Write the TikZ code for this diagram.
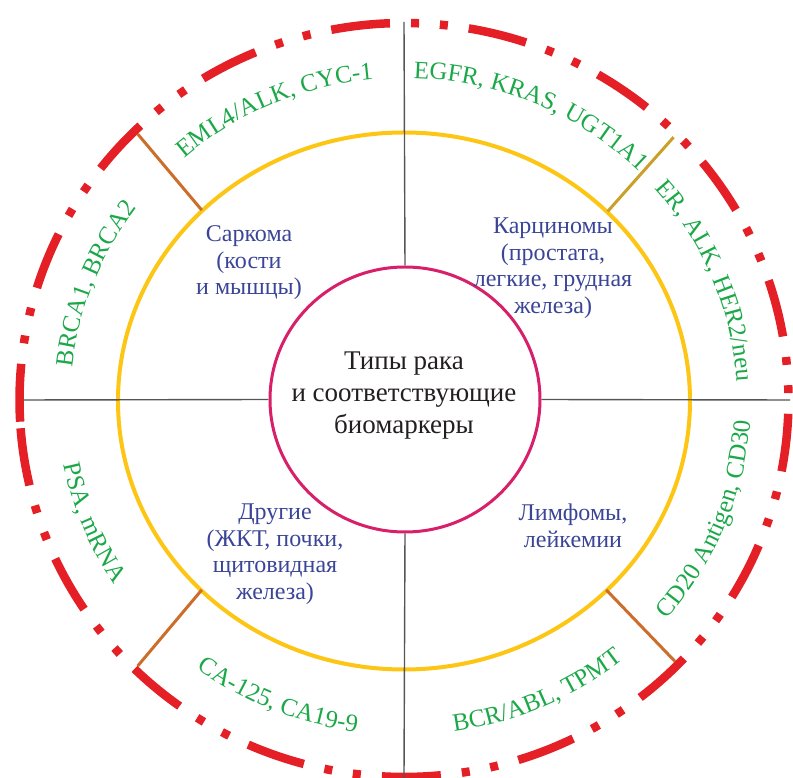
\documentclass[tikz,border=0pt]{standalone}
\usepackage{fontspec}
\setmainfont{Liberation Serif}
\usetikzlibrary{decorations.text,shapes.geometric}
\definecolor{redc}{HTML}{E41F26}
\definecolor{yellowc}{HTML}{FDC514}
\definecolor{magc}{HTML}{D8206A}
\definecolor{greenc}{HTML}{1BA848}
\definecolor{bluec}{HTML}{3A4597}
\definecolor{orangec}{HTML}{CC6D2C}
\definecolor{goldc}{HTML}{C9A12A}
\definecolor{axisc}{HTML}{555555}
\definecolor{textc}{HTML}{231F20}
\newcommand\gfnt{\fontsize{25}{25}\selectfont}
\begin{document}
\begin{tikzpicture}[x=1pt,y=1pt,
  reddash/.style={draw=redc,line width=8.5pt,line cap=butt},
  yellowring/.style={draw=yellowc,line width=4pt},
  coreshape/.style={ellipse,draw=magc,line width=3pt,minimum width=270pt,minimum height=265pt,inner sep=0pt},
  coretext/.style={align=center,text=textc,font=\fontsize{27}{32}\selectfont},
  bluetxt/.style={align=center,text=bluec,font=\fontsize{24}{26.5}\selectfont},
  axisline/.style={draw=axisc,line width=1.4pt},
  spoke/.style={line width=3pt},
  greenup/.style={decorate,decoration={text along path,text align=center,text color=greenc,text={|\gfnt|#1}}},
  greendown/.style={decorate,decoration={text along path,text align=center,text color=greenc,text={|\gfnt|#1}}}
]
\useasboundingbox (-404,-378) rectangle (389,400);
% outer red dash-dot ring
\foreach \c in {96.5,75.9,55.3,34.7,14.1,-6.5,-27.1,-47.7,-68.3,-88.9,117.1,137.7,158.3,178.9,250.5,229.9,209.3,188.7}{
  \draw[reddash] ({\c-4.4}:384.5 and 377) arc[start angle={\c-4.4},end angle={\c+4.4},x radius=384.5,y radius=377];
}
\foreach \m in {86.2,65.6,45,24.4,3.8,-16.8,-37.4,-58,-78.6,106.8,127.4,148,168.6,260.8,240.2,219.6,199}{
  \foreach \d in {-2.15,2.15}{
    \draw[reddash] ({\m+\d-0.6}:384.5 and 377) arc[start angle={\m+\d-0.6},end angle={\m+\d+0.6},x radius=384.5,y radius=377];
  }
}
% yellow ring
\draw[yellowring] (0,-1) ellipse[x radius=286,y radius=268.5];
% spokes between yellow and red rings
\coordinate (ya) at (135:286 and 268.5);  \coordinate (ra) at (134.5:380 and 373);
\coordinate (yb) at (44.6:286 and 268.5); \coordinate (rb) at (44.8:380 and 373);
\coordinate (yc) at (225:286 and 268.5);  \coordinate (rc) at (225.5:380 and 373);
\coordinate (yd) at (315:286 and 268.5);  \coordinate (rd) at (315.5:380 and 373);
\draw[spoke,draw=orangec] (ya) -- (ra);
\draw[spoke,draw=goldc] (yb) -- (rb);
\draw[spoke,draw=orangec] (yc) -- (rc);
\draw[spoke,draw=orangec] (yd) -- (rd);
% core
\node[coreshape] (core) at (1,0.5) {};
\node[coretext] (title) at (0,4) {Типы рака\\и соответствующие\\биомаркеры};
% axes
\coordinate (atop) at (0,378);
\coordinate (abot) at (0,-378);
\coordinate (aleft) at (-382,0);
\coordinate (aright) at (386,0);
\draw[axisline] (core.north) -- (atop);
\draw[axisline] (core.south) -- (abot);
\draw[axisline] (core.west) -- (aleft);
\draw[axisline] (core.east) -- (aright);
% cancer types
\node[bluetxt] (sark) at (-155,137) {Саркома\\(кости\\и мышцы)};
\node[bluetxt] (carc) at (149,132) {Карциномы\\(простата,\\легкие, грудная\\железа)};
\node[bluetxt] (other) at (-129,-154) {Другие\\(ЖКТ, почки,\\щитовидная\\железа)};
\node[bluetxt] (lymph) at (169,-126) {Лимфомы,\\лейкемии};
% biomarkers (upper half: clockwise, tops outward)
\path[greenup={EML4/ALK, CYC-1}] (153.5:333 and 322) arc[start angle=153.5,end angle=73.5,x radius=333,y radius=322];
\path[greenup={EGFR, KRAS, UGT1A1}] (106.5:333 and 322) arc[start angle=106.5,end angle=26.5,x radius=333,y radius=322];
\path[greenup={ER, ALK, HER2/neu}] (62:333 and 322) arc[start angle=62,end angle=-18,x radius=333,y radius=322];
\path[greenup={BRCA1, BRCA2}] (199:333 and 322) arc[start angle=199,end angle=119,x radius=333,y radius=322];
% biomarkers (lower half: counter-clockwise, tops inward)
\path[greendown={CD20 Antigen, CD30}] (-62:347 and 335) arc[start angle=-62,end angle=18,x radius=347,y radius=335];
\path[greendown={BCR/ABL, TPMT}] (-106:347 and 335) arc[start angle=-106,end angle=-26,x radius=347,y radius=335];
\path[greendown={CA-125, CA19-9}] (207.5:347 and 335) arc[start angle=207.5,end angle=287.5,x radius=347,y radius=335];
\path[greendown={PSA, mRNA}] (162:347 and 335) arc[start angle=162,end angle=242,x radius=347,y radius=335];
\end{tikzpicture}
\end{document}
